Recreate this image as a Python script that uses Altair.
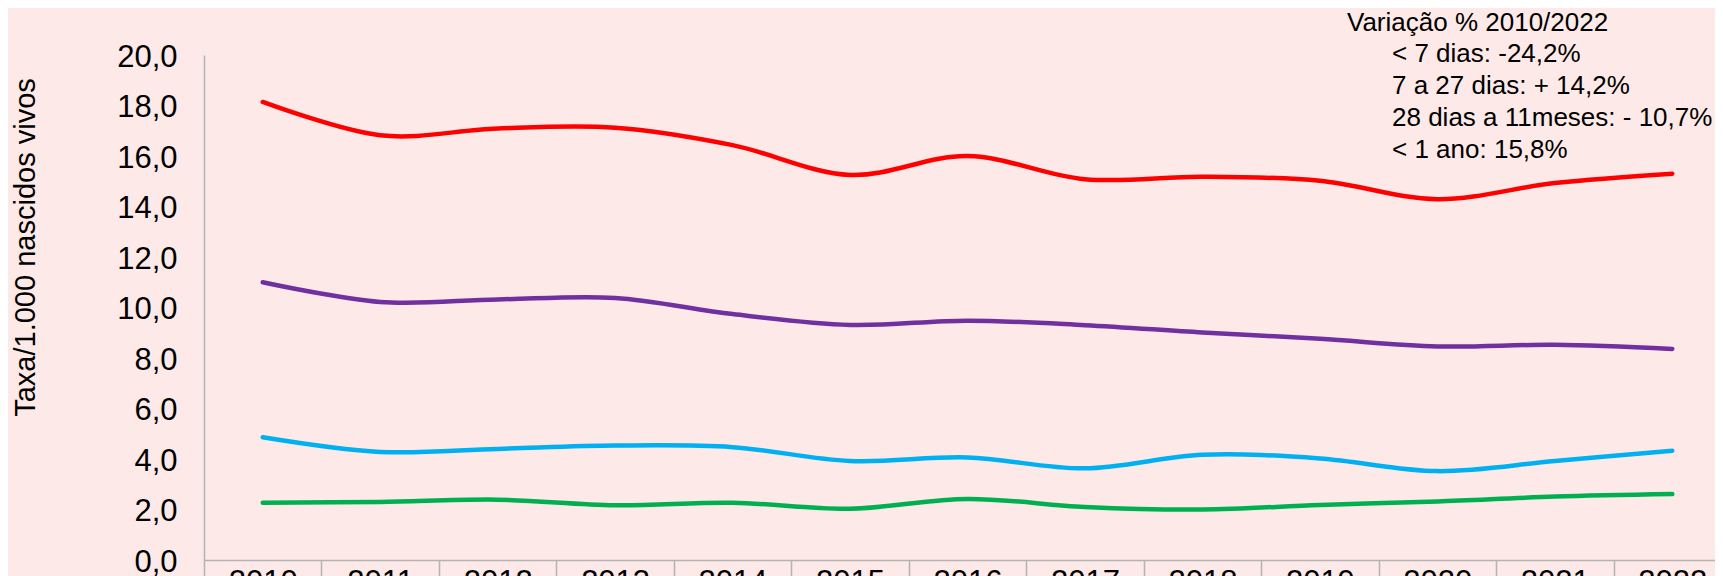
import altair as alt
import pandas as pd

years = [str(y) for y in range(2010, 2023)]
s_lt1ano = [18.14, 16.82, 17.09, 17.12, 16.43, 15.25, 16.00, 15.08, 15.18, 15.02, 14.29, 14.93, 15.30]
s_lt7dias = [11.00, 10.22, 10.32, 10.38, 9.74, 9.31, 9.48, 9.30, 9.01, 8.76, 8.46, 8.52, 8.36]
s_28d11m = [4.86, 4.28, 4.40, 4.53, 4.47, 3.92, 4.06, 3.63, 4.17, 4.02, 3.52, 3.92, 4.33]
s_7a27d = [2.27, 2.30, 2.39, 2.17, 2.27, 2.03, 2.42, 2.10, 2.00, 2.18, 2.32, 2.51, 2.61]
series_names = ["< 1 ano", "< 7 dias", "28 dias a 11meses", "7 a 27 dias"]
series_colors = ["#FF0000", "#7030A0", "#00B0F0", "#00B050"]
y_ticks = [0, 2, 4, 6, 8, 10, 12, 14, 16, 18, 20]
note_title = "Variação % 2010/2022"
note_lines = ["< 7 dias: -24,2%", "7 a 27 dias: + 14,2%", "28 dias a 11meses: - 10,7%", "< 1 ano: 15,8%"]

FONT = "Liberation Sans"
GRAY = "#B3B3B3"

rows = []
for name, vals in zip(series_names, [s_lt1ano, s_lt7dias, s_28d11m, s_7a27d]):
    for yr, v in zip(years, vals):
        rows.append({"ano": yr, "taxa": v, "serie": name})
df = pd.DataFrame(rows)

lines = alt.Chart(df).mark_line(
    interpolate="cardinal", strokeWidth=4.5, strokeCap="round"
).encode(
    x=alt.X(
        "ano:O",
        sort=years,
        scale=alt.Scale(type="band", paddingInner=0, paddingOuter=0, range=[0, 1527]),
        axis=alt.Axis(
            title=None,
            labelAngle=0,
            labelFont=FONT,
            labelFontSize=31,
            labelColor="#000000",
            labelPadding=-15,
            tickBand="extent",
            ticks=True,
            tickSize=22,
            tickColor=GRAY,
            tickWidth=1.5,
            domainColor=GRAY,
            domainWidth=1.5,
            grid=False,
        ),
    ),
    y=alt.Y(
        "taxa:Q",
        scale=alt.Scale(domain=[0, 20], nice=False),
        axis=alt.Axis(
            title="Taxa/1.000 nascidos vivos",
            titleFont=FONT,
            titleFontSize=29,
            titleFontWeight="normal",
            titleColor="#000000",
            titleAngle=270,
            titleAlign="center",
            titleBaseline="middle",
            titleX=-179,
            titleY=192,
            values=y_ticks,
            labelExpr="replace(format(datum.value, '.1f'), '.', ',')",
            labelFont=FONT,
            labelFontSize=31,
            labelColor="#000000",
            labelPadding=27,
            labelOffset=2,
            ticks=False,
            grid=False,
            domainColor=GRAY,
            domainWidth=1.5,
        ),
    ),
    color=alt.Color(
        "serie:N",
        scale=alt.Scale(domain=series_names, range=series_colors),
        legend=None,
    ),
)

note_head = alt.Chart(pd.DataFrame({"t": [note_title]})).mark_text(
    align="left", baseline="middle", font=FONT, fontSize=26, color="#000000"
).encode(x=alt.value(1143), y=alt.value(-32.5), text="t:N")

note_body = alt.Chart(pd.DataFrame({"t": ["\n".join(note_lines)]})).mark_text(
    align="left", baseline="top", font=FONT, fontSize=26, color="#000000",
    lineBreak="\n", lineHeight=32
).encode(x=alt.value(1188), y=alt.value(-13.7), text="t:N")

chart = alt.layer(lines, note_head, note_body).properties(
    width=1511,
    height=505,
    autosize=alt.AutoSizeParams(type="none"),
    padding={"left": 196, "top": 47, "right": 0, "bottom": 16},
    background="#FDEAE8",
).configure_view(stroke=None)

chart.save("out.html", embed_options={"renderer": "svg", "actions": False})
